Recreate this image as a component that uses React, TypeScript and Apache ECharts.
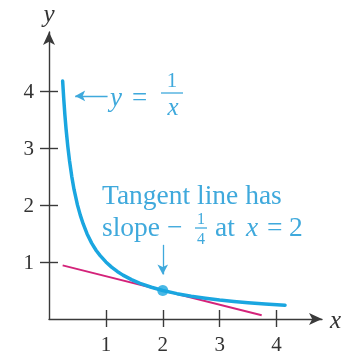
import { useEffect, useRef } from "react";
import * as echarts from "echarts";

// y = 1/x, sampled along the drawn branch
const curveX = [
  0.24, 0.26, 0.28, 0.3, 0.33, 0.36, 0.4, 0.44, 0.5, 0.55, 0.6, 0.67, 0.75, 0.83, 0.9, 1.0,
  1.1, 1.2, 1.3, 1.45, 1.6, 1.8, 2.0, 2.25, 2.5, 2.75, 3.0, 3.25, 3.5, 3.8, 4.15,
];
const curveY = [
  4.17, 3.85, 3.57, 3.33, 3.03, 2.78, 2.5, 2.27, 2.0, 1.82, 1.67, 1.49, 1.33, 1.2, 1.11, 1.0,
  0.91, 0.833, 0.769, 0.69, 0.625, 0.556, 0.5, 0.444, 0.4, 0.364, 0.333, 0.308, 0.286, 0.263, 0.241,
];

// tangent line at x = 2 (slope -1/4)
const tangentX = [0.24, 3.74];
const tangentY = [0.94, 0.065];

// point of tangency
const pointX = [2];
const pointY = [0.5];

// tick positions
const xTicks = [1, 2, 3, 4];
const yTicks = [1, 2, 3, 4];

// annotation arrows (data coordinates: tail, head)
const labelArrow = [[1.03, 3.91], [0.46, 3.91]];
const pointerArrow = [[2, 1.3], [2, 0.78]];

const SERIF = "Liberation Serif";
const AXIS = "#3a3a3a";
const CURVE = "#1aa6e0";
const TANGENT = "#d4237a";
const NOTE = "#3fa9dc";

const noteText = (
  text: string,
  x: number,
  y: number,
  fontSize: number,
  opts: { italic?: boolean; align?: "left" | "center" } = {}
) => ({
  type: "text",
  x,
  y,
  style: {
    text,
    fontFamily: SERIF,
    fontSize,
    fontStyle: opts.italic ? "italic" : "normal",
    fill: NOTE,
    align: opts.align ?? "left",
    verticalAlign: "middle",
  },
});

const rule = (x1: number, x2: number, y: number) => ({
  type: "line",
  shape: { x1, y1: y, x2, y2: y },
  style: { stroke: NOTE, lineWidth: 1.3 },
});

export default function App() {
  const ref = useRef<HTMLDivElement>(null);

  useEffect(() => {
    const chart = echarts.init(ref.current!, null, { renderer: "svg" });

    const tickStyle = { color: AXIS, width: 1.4 };

    const xBase = {
      type: "value" as const,
      min: 0,
      max: 4.8,
      interval: 1,
      position: "bottom" as const,
      splitLine: { show: false },
    };
    const yBase = {
      type: "value" as const,
      min: 0,
      max: 5.03,
      interval: 1,
      position: "left" as const,
      splitLine: { show: false },
    };

    chart.setOption({
      animation: false,
      textStyle: { fontFamily: SERIF },
      grid: { left: 49, right: 30, top: 32, bottom: 41, containLabel: false, outerBoundsMode: "none" },
      xAxis: [
        {
          ...xBase,
          axisLine: {
            show: true,
            onZero: false,
            symbol: ["none", "arrow"],
            symbolSize: [9, 13],
            lineStyle: { color: AXIS, width: 1.4 },
          },
          axisTick: { show: true, customValues: xTicks, length: 8, lineStyle: tickStyle },
          axisLabel: { customValues: xTicks, margin: 14, fontSize: 21, color: "#333", fontFamily: SERIF },
          name: "x",
          nameLocation: "end",
          nameGap: 8,
          nameTextStyle: { fontStyle: "italic", fontSize: 25, fontFamily: SERIF, color: "#333", verticalAlign: "middle" },
        },
        {
          ...xBase,
          axisLine: { show: false },
          axisTick: { show: true, inside: true, customValues: xTicks, length: 9, lineStyle: tickStyle },
          axisLabel: { show: false },
        },
      ],
      yAxis: [
        {
          ...yBase,
          axisLine: {
            show: true,
            onZero: false,
            symbol: ["none", "arrow"],
            symbolSize: [9, 13],
            lineStyle: { color: AXIS, width: 1.4 },
          },
          axisTick: { show: true, customValues: yTicks, length: 9, lineStyle: tickStyle },
          axisLabel: { customValues: yTicks, margin: 15, fontSize: 21, color: "#333", fontFamily: SERIF },
          name: "y",
          nameLocation: "end",
          nameGap: 6,
          nameTextStyle: { fontStyle: "italic", fontSize: 25, fontFamily: SERIF, color: "#333", align: "center" },
        },
        {
          ...yBase,
          axisLine: { show: false },
          axisTick: { show: true, inside: true, customValues: yTicks, length: 9, lineStyle: tickStyle },
          axisLabel: { show: false },
        },
      ],
      series: [
        {
          type: "line",
          data: curveX.map((x, i) => [x, curveY[i]]),
          smooth: false,
          showSymbol: false,
          lineStyle: { color: CURVE, width: 3.5, join: "round", cap: "round" },
          z: 3,
          markLine: {
            silent: true,
            symbolSize: [8, 10],
            label: { show: false },
            lineStyle: { color: NOTE, width: 1.3, type: "solid" },
            data: [
              [
                { coord: labelArrow[0], symbol: "none" },
                { coord: labelArrow[1], symbol: "arrow" },
              ],
              [
                { coord: pointerArrow[0], symbol: "none" },
                { coord: pointerArrow[1], symbol: "arrow" },
              ],
            ],
          },
        },
        {
          type: "line",
          data: tangentX.map((x, i) => [x, tangentY[i]]),
          showSymbol: false,
          lineStyle: { color: TANGENT, width: 2 },
          z: 2,
        },
        {
          type: "scatter",
          data: pointX.map((x, i) => [x, pointY[i]]),
          symbolSize: 11,
          itemStyle: { color: CURVE },
          z: 4,
        },
      ],
      graphic: [
        // y = 1/x
        noteText("y", 110, 97, 27, { italic: true }),
        noteText("=", 132, 97, 27),
        noteText("1", 172, 80, 21, { align: "center" }),
        rule(161, 183, 93),
        noteText("x", 173, 106, 25, { italic: true, align: "center" }),
        // Tangent line has slope -1/4 at x = 2
        noteText("Tangent line has", 102, 194, 27.5),
        noteText("slope \u2212", 102, 226, 27.5),
        noteText("1", 201, 218, 16, { align: "center" }),
        rule(195, 207, 228),
        noteText("4", 201, 238, 16, { align: "center" }),
        noteText("at", 215, 226, 27.5),
        noteText("x", 246, 226, 27.5, { italic: true }),
        noteText("=", 267, 226, 27.5),
        noteText("2", 289, 226, 27.5),
      ],
    });

    return () => chart.dispose();
  }, []);

  return <div ref={ref} style={{ position: "fixed", left: 0, top: 0, width: 352, height: 360 }} />;
}
